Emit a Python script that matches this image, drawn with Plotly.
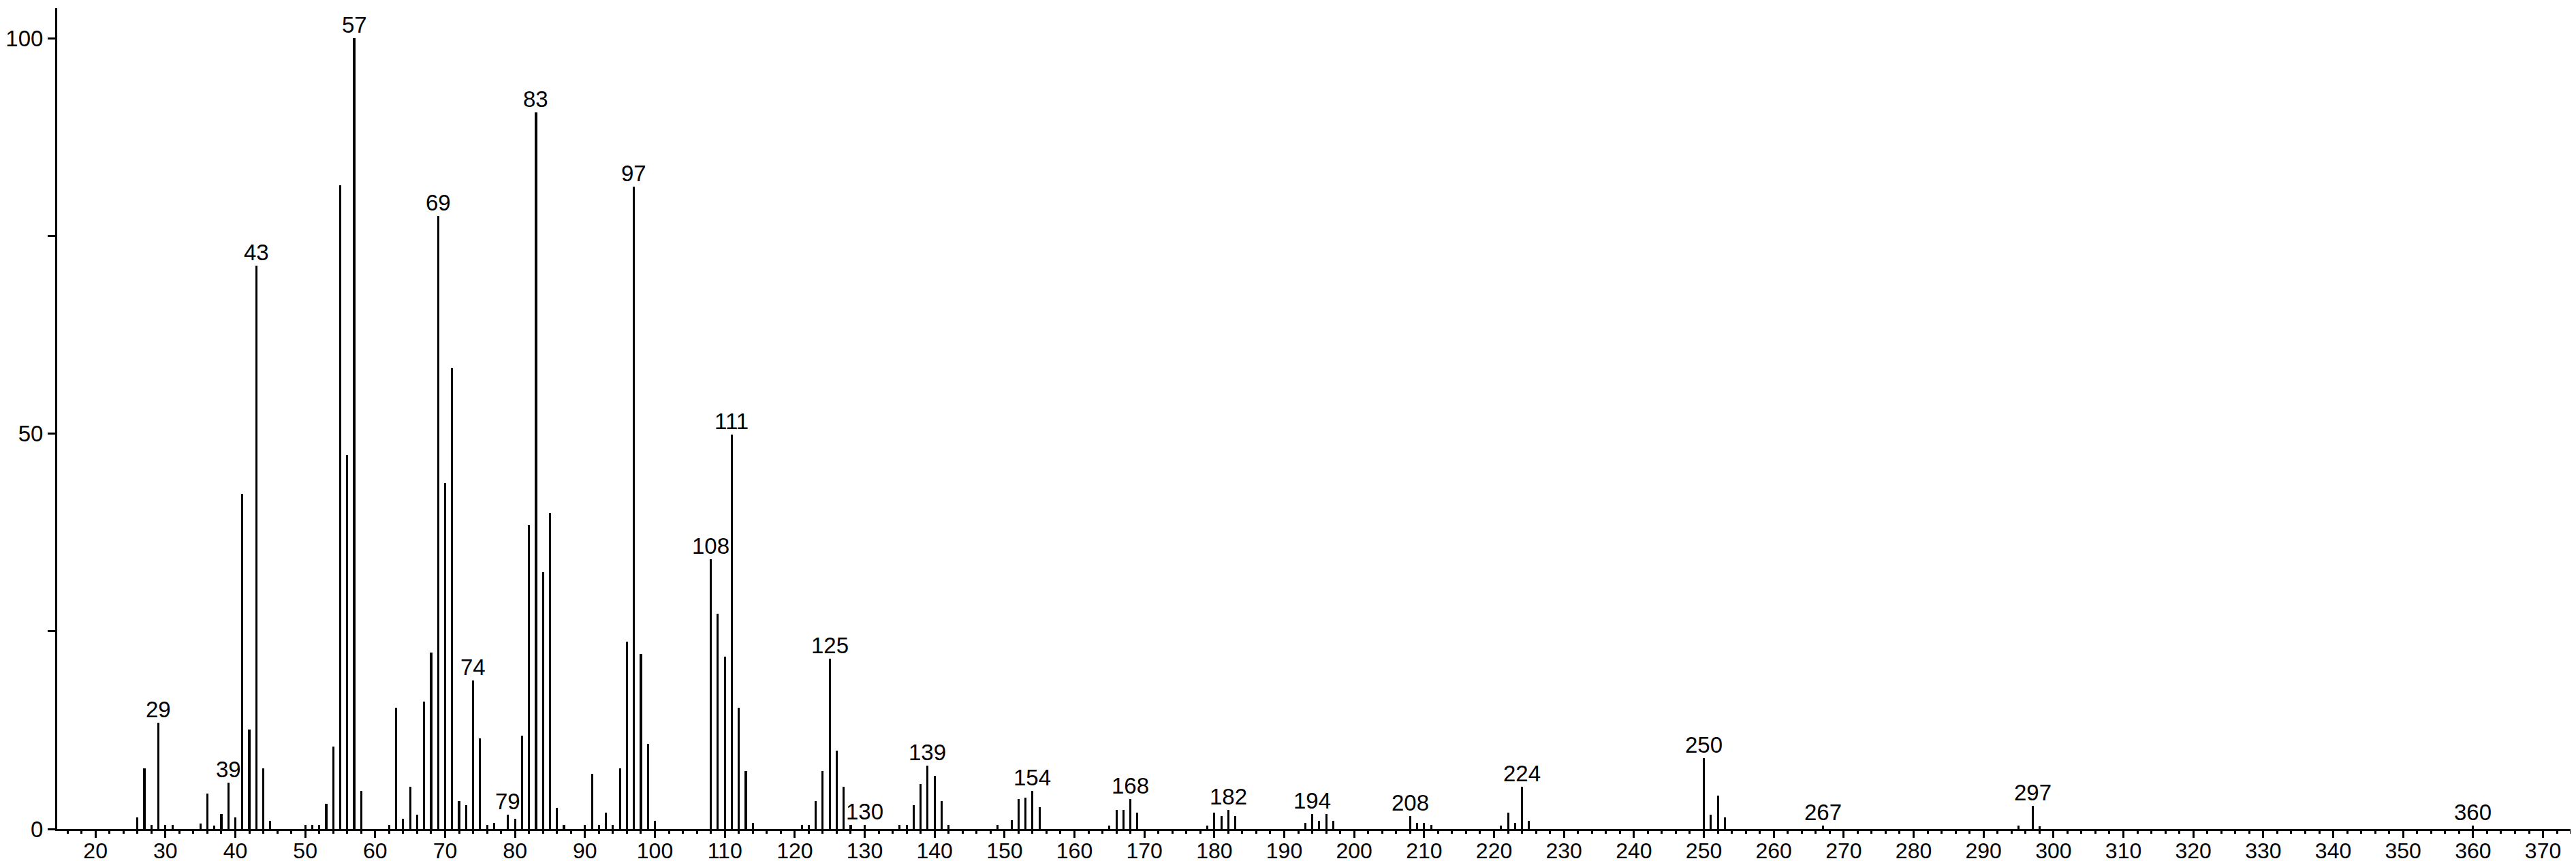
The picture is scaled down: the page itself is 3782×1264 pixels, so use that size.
import plotly.graph_objects as go

# m/z values and relative intensities
mz = [26, 27, 28, 29, 30, 31, 35, 36, 37, 38, 39, 40, 41, 42, 43, 44, 45,
      50, 51, 52, 53, 54, 55, 56, 57, 58, 62, 63, 64, 65, 66, 67, 68, 69, 70,
      71, 72, 73, 74, 75, 76, 77, 79, 80, 81, 82, 83, 84, 85, 86, 87, 90, 91,
      92, 93, 94, 95, 96, 97, 98, 99, 100, 108, 109, 110, 111, 112, 113, 114,
      121, 122, 123, 124, 125, 126, 127, 128, 130, 135, 136, 137, 138, 139,
      140, 141, 142, 149, 151, 152, 153, 154, 155, 165, 166, 167, 168, 169,
      179, 180, 181, 182, 183, 193, 194, 195, 196, 197, 208, 209, 210, 211,
      221, 222, 223, 224, 225, 250, 251, 252, 253, 267, 295, 297, 298, 360]
intensity = [1.5, 7.7, 0.5, 13.4, 0.5, 0.5, 0.7, 4.5, 0.4, 1.9, 5.9, 1.5, 42.4,
             12.6, 71.2, 7.7, 1.0, 0.5, 0.5, 0.5, 3.2, 10.4, 81.4, 47.3, 100.0,
             4.8, 0.5, 15.3, 1.3, 5.3, 1.8, 16.1, 22.3, 77.5, 43.8, 58.3, 3.5,
             3.0, 18.8, 11.5, 0.5, 0.8, 1.8, 1.3, 11.8, 38.4, 90.6, 32.5, 40.0,
             2.7, 0.5, 0.5, 7.0, 0.5, 2.1, 0.5, 7.7, 23.7, 81.2, 22.1, 10.8,
             1.0, 34.1, 27.2, 21.8, 49.9, 15.3, 7.3, 0.8, 0.5, 0.5, 3.5, 7.3,
             21.5, 9.9, 5.3, 0.5, 0.5, 0.5, 0.5, 3.0, 5.7, 8.0, 6.7, 3.5, 0.5,
             0.5, 1.1, 3.8, 4.0, 4.8, 2.8, 0.45, 2.4, 2.4, 3.8, 2.1, 0.45, 2.1,
             1.6, 2.4, 1.6, 0.8, 1.9, 1.0, 1.9, 1.0, 1.6, 0.8, 0.8, 0.5, 0.45,
             2.1, 0.8, 5.3, 1.0, 9.0, 1.8, 4.2, 1.5, 0.45, 0.4, 2.9, 0.35, 0.4]

# peaks carrying an m/z label
labeled = [29, 39, 43, 57, 69, 74, 79, 83, 97, 108, 111, 125, 130, 139, 154,
           168, 182, 194, 208, 224, 250, 267, 297, 360]

x_ticks = list(range(20, 371, 10))
y_ticks = [0, 25, 50, 75, 100]
y_ticktext = ["0", "", "50", "", "100"]

FONT = "Liberation Sans, Arial, Helvetica, sans-serif"
FS = 32
X_RANGE = [14.53, 375.5]

fig = go.Figure()
fig.add_trace(go.Bar(x=mz, y=intensity, width=0.3,
                     marker=dict(color="black", line=dict(width=0)),
                     hoverinfo="x+y"))
# empty trace so that the overlaid tick-mark axis is drawn
fig.add_trace(go.Scatter(x=[], y=[], xaxis="x2", yaxis="y",
                         mode="markers", showlegend=False, hoverinfo="skip"))

lookup = dict(zip(mz, intensity))
for m in labeled:
    fig.add_annotation(x=m, y=lookup[m], text=str(m), showarrow=False,
                       xanchor="center", yanchor="bottom", yshift=-1,
                       font=dict(family=FONT, size=33, color="black"))

fig.update_layout(
    width=3782, height=1264,
    margin=dict(l=69, r=0, t=4, b=55),
    paper_bgcolor="white", plot_bgcolor="white",
    showlegend=False, bargap=0,
    font=dict(family=FONT, size=FS, color="black"),
    xaxis=dict(range=X_RANGE, tickvals=x_ticks,
               ticks="outside", ticklen=2, tickwidth=3, tickcolor="black",
               showline=True, linewidth=3, linecolor="black",
               showgrid=False, zeroline=False,
               tickfont=dict(family=FONT, size=FS, color="black")),
    # tick marks drawn on an overlaid copy of the x axis so the labels sit close
    xaxis2=dict(overlaying="x", anchor="y", side="bottom", range=X_RANGE,
                tickvals=x_ticks, showticklabels=False,
                ticks="outside", ticklen=12, tickwidth=3, tickcolor="black",
                showline=False, showgrid=False, zeroline=False,
                minor=dict(dtick=2, tick0=0, ticks="outside", ticklen=6,
                           tickwidth=3, tickcolor="black", showgrid=False)),
    yaxis=dict(range=[0, 103.8], tickvals=y_ticks, ticktext=y_ticktext,
               ticks="outside", ticklen=11, tickwidth=3, tickcolor="black",
               showline=True, linewidth=3, linecolor="black",
               showgrid=False, zeroline=False,
               tickfont=dict(family=FONT, size=33, color="black")),
)

fig.write_html("out.html")
